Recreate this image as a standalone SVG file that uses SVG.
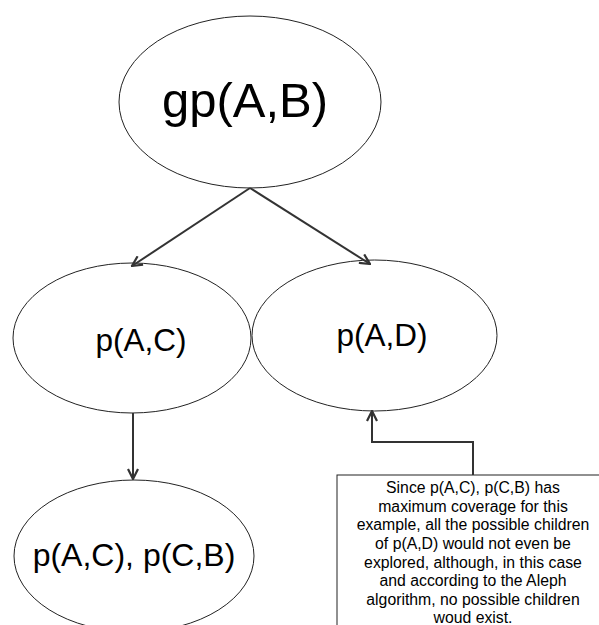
<svg xmlns="http://www.w3.org/2000/svg" width="599" height="625" viewBox="0 0 599 625">
<defs>
<style>
.node{fill:#fff;stroke:#222;stroke-width:1}
.lbl{font-family:"Liberation Sans",Arial,sans-serif;fill:#000;text-anchor:middle}
.edge{fill:none;stroke:#333;stroke-width:2}
.note{font-family:"Liberation Sans",Arial,sans-serif;font-size:15.8px;fill:#000;text-anchor:middle}
</style>
<marker id="arr" viewBox="0 0 12 12" refX="11" refY="6" markerWidth="12" markerHeight="12" markerUnits="userSpaceOnUse" orient="auto">
<path d="M1,1 L11,6 L1,11" fill="none" stroke="#333" stroke-width="2.2"/>
</marker>
</defs>
<rect width="599" height="625" fill="#fff"/>
<g id="gpAB">
<ellipse class="node" cx="250" cy="102" rx="131" ry="86"/>
<text class="lbl" x="245" y="117" font-size="49">gp(A,B)</text>
</g>
<g id="pAC">
<ellipse class="node" cx="132" cy="338" rx="119" ry="75"/>
<text class="lbl" x="141" y="351" font-size="31.5">p(A,C)</text>
</g>
<g id="pAD">
<ellipse class="node" cx="374.5" cy="335.5" rx="122.5" ry="75.5"/>
<text class="lbl" x="382" y="346" font-size="31.5">p(A,D)</text>
</g>
<g id="pACpCB">
<ellipse class="node" cx="134" cy="556" rx="120" ry="76"/>
<text class="lbl" x="134" y="566" font-size="32">p(A,C), p(C,B)</text>
</g>
<g id="note">
<rect x="337" y="475" width="264" height="160" fill="#fff" stroke="#222" stroke-width="1"/>
<text class="note" x="473" y="493">Since p(A,C), p(C,B) has</text>
<text class="note" x="473" y="512">maximum coverage for this</text>
<text class="note" x="473" y="530">example, all the possible children</text>
<text class="note" x="473" y="549">of p(A,D) would not even be</text>
<text class="note" x="473" y="568">explored, although, in this case</text>
<text class="note" x="473" y="586">and according to the Aleph</text>
<text class="note" x="473" y="605">algorithm, no possible children</text>
<text class="note" x="473" y="623">woud exist.</text>
</g>
<g id="edges">
<line class="edge" x1="250" y1="188" x2="132" y2="266" marker-end="url(#arr)"/>
<line class="edge" x1="250" y1="188" x2="370" y2="264" marker-end="url(#arr)"/>
<line class="edge" x1="133" y1="413" x2="133" y2="479" marker-end="url(#arr)"/>
<polyline class="edge" points="473,475 473,442 372,442 372,411" marker-end="url(#arr)"/>
</g>
</svg>
